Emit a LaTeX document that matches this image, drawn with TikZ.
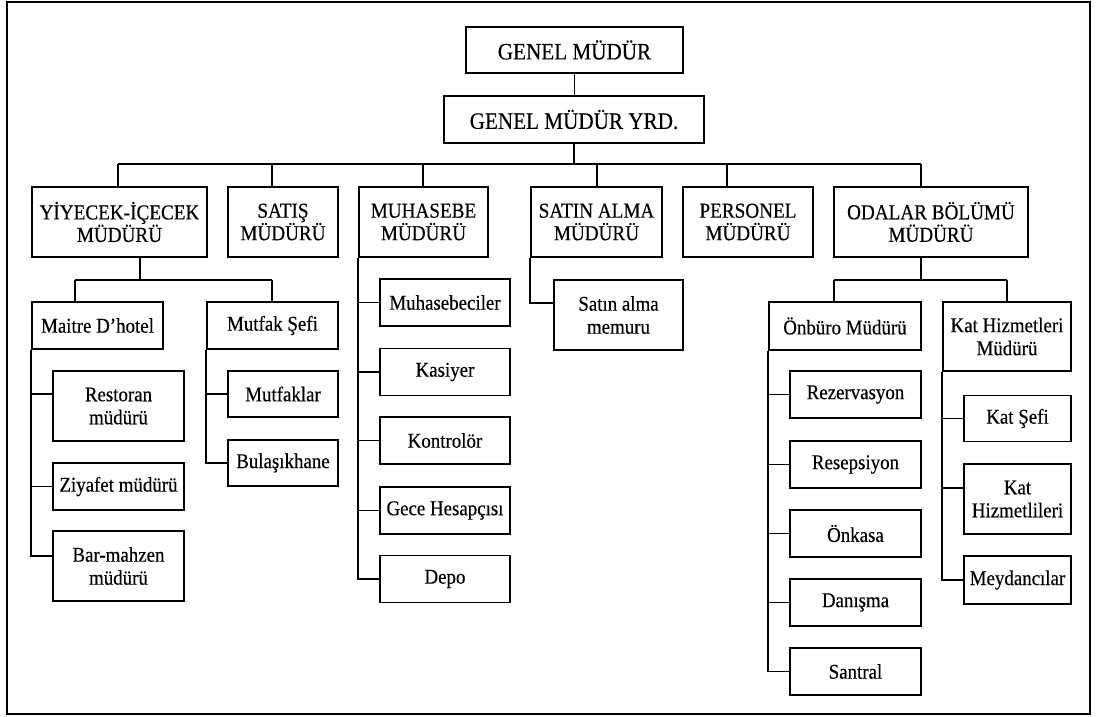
\documentclass[tikz,border=0pt]{standalone}
\usepackage{fontspec}
\setmainfont{Liberation Serif}[FakeStretch=0.9, FakeBold=0.35]
\tikzset{
  box/.style={draw, line width=1.6pt, inner sep=0pt, align=center, minimum height=47pt},
  topfont/.style={font=\fontsize{23.5}{26}\selectfont},
  midfont/.style={font=\fontsize{21.3}{22.5}\selectfont},
  lowfont/.style={font=\fontsize{21}{23}\selectfont},
  lvltwo/.style={box, midfont, minimum height=70pt},
  lowbox/.style={box, lowfont},
  lowtall/.style={box, lowfont, minimum height=70pt},
  conn/.style={line width=1.6pt},
}
\begin{document}
\begin{tikzpicture}[x=1pt,y=-1pt]
\useasboundingbox (0,0) rectangle (1096,717);
\draw[line width=1.6pt] (7,2) rectangle (1090,714);

% top
\node[box,topfont,minimum width=217pt,minimum height=46pt] (gm) at (574.5,50) {GENEL MÜDÜR};
\node[box,topfont,minimum width=260pt] (yrd) at (574,119.5) {GENEL MÜDÜR YRD.};

% level 2
\node[lvltwo,minimum width=175pt] (yiy) at (119.5,222) {YİYECEK-İÇECEK\\MÜDÜRÜ};
\node[lvltwo,minimum width=110pt] (sat) at (283,222) {SATIŞ\\MÜDÜRÜ};
\node[lvltwo,minimum width=129pt] (muh) at (423.5,222) {MUHASEBE\\MÜDÜRÜ};
\node[lvltwo,minimum width=131pt] (sal) at (596.5,222) {SATIN ALMA\\MÜDÜRÜ};
\node[lvltwo,minimum width=130pt] (per) at (748,222) {PERSONEL\\MÜDÜRÜ};
\node[lvltwo,minimum width=194pt] (oda) at (931,222) {ODALAR BÖLÜMÜ\\MÜDÜRÜ};

% food & beverage
\node[lowbox,minimum width=131pt] (mai) at (97.5,325.5) {Maitre D’hotel};
\node[lowbox,minimum width=131pt] (mut) at (272.5,325.5) {Mutfak Şefi};
\node[lowtall,minimum width=131pt] (res) at (118.5,406) {Restoran\\müdürü};
\node[lowbox,minimum width=131pt] (ziy) at (118.5,486.5) {Ziyafet müdürü};
\node[lowtall,minimum width=131pt] (bar) at (118.5,566) {Bar-mahzen\\müdürü};
\node[lowbox,minimum width=110pt,minimum height=46pt] (mtk) at (283,394) {Mutfaklar};
\node[lowbox,minimum width=110pt,minimum height=46pt] (bul) at (283,463) {Bulaşıkhane};

% accounting
\node[lowbox,minimum width=130pt] (mhs) at (445,302.5) {Muhasebeciler};
\node[lowbox,minimum width=130pt] (kas) at (445,372) {Kasiyer};
\node[lowbox,minimum width=130pt] (kon) at (445,440.5) {Kontrolör};
\node[lowbox,minimum width=130pt] (gec) at (445,510.5) {Gece Hesapçısı};
\node[lowbox,minimum width=130pt] (dep) at (445,579) {Depo};

% purchasing
\node[lowtall,minimum width=129pt] (sam) at (618.5,315) {Satın alma\\memuru};

% rooms division
\node[lowbox,minimum width=152pt,minimum height=48pt] (onb) at (845,326) {Önbüro Müdürü};
\node[lowbox,minimum width=128pt,minimum height=69pt] (kat) at (1007,336.5) {Kat Hizmetleri\\Müdürü};
\node[lowbox,minimum width=131pt] (rez) at (855.5,394.5) {Rezervasyon};
\node[lowbox,minimum width=131pt] (rsp) at (855.5,464.5) {Resepsiyon};
\node[lowbox,minimum width=131pt] (onk) at (855.5,533.5) {Önkasa};
\node[lowbox,minimum width=131pt] (dan) at (855.5,602.5) {Danışma};
\node[lowbox,minimum width=131pt] (san) at (855.5,671.5) {Santral};
\node[lowbox,minimum width=107pt,minimum height=46pt] (kse) at (1017.5,418.5) {Kat Şefi};
\node[lowtall,minimum width=107pt] (kth) at (1017.5,499) {Kat\\Hizmetlileri};
\node[lowbox,minimum width=107pt,minimum height=48pt] (mey) at (1017.5,580) {Meydancılar};

% connectors: top
\coordinate (bus) at (575,164);
\coordinate (busL) at (118,164);
\coordinate (busR) at (921,164);
\coordinate (bb) at (272,164);
\coordinate (bc) at (423,164);
\coordinate (bd) at (597,164);
\coordinate (be) at (727,164);
\draw[conn] (gm.south) -- (gm.south |- yrd.north);
\draw[conn] (yrd.south) -- (yrd.south |- bus);
\draw[conn] (busL) -- (busR);
\draw[conn] (busL) -- (busL |- yiy.north);
\draw[conn] (bb) -- (bb |- sat.north);
\draw[conn] (bc) -- (bc |- muh.north);
\draw[conn] (bd) -- (bd |- sal.north);
\draw[conn] (be) -- (be |- per.north);
\draw[conn] (busR) -- (busR |- oda.north);

% food & beverage connectors
\coordinate (yd) at (140,280);
\coordinate (ysL) at (75,280);
\coordinate (ysR) at (272,280);
\draw[conn] (yd |- yiy.south) -- (yd);
\draw[conn] (ysL) -- (ysR);
\draw[conn] (ysL) -- (ysL |- mai.north);
\draw[conn] (ysR) -- (ysR |- mut.north);
\coordinate (resC) at (53,394);
\coordinate (barC) at (53,556);
\draw[conn] (mai.south west) |- (resC);
\draw[conn] (mai.south west) |- (ziy.west);
\draw[conn] (mai.south west) |- (barC);
\draw[conn] (mut.south west) |- (mtk.west);
\draw[conn] (mut.south west) |- (bul.west);

% accounting connectors
\draw[conn] (muh.south west) |- (mhs.west);
\draw[conn] (muh.south west) |- (kas.west);
\draw[conn] (muh.south west) |- (kon.west);
\draw[conn] (muh.south west) |- (gec.west);
\draw[conn] (muh.south west) |- (dep.west);

% purchasing connector
\coordinate (samC) at (554,303);
\draw[conn] (sal.south west) |- (samC);

% rooms division connectors
\coordinate (od) at (921,280);
\coordinate (osL) at (834,280);
\coordinate (osR) at (1007,280);
\draw[conn] (od |- oda.south) -- (od);
\draw[conn] (osL) -- (osR);
\draw[conn] (osL) -- (osL |- onb.north);
\draw[conn] (osR) -- (osR |- kat.north);
\draw[conn] (onb.south west) |- (rez.west);
\draw[conn] (onb.south west) |- (rsp.west);
\draw[conn] (onb.south west) |- (onk.west);
\draw[conn] (onb.south west) |- (dan.west);
\draw[conn] (onb.south west) |- (san.west);
\coordinate (kthC) at (964,488);
\draw[conn] (kat.south west) |- (kse.west);
\draw[conn] (kat.south west) |- (kthC);
\draw[conn] (kat.south west) |- (mey.west);
\end{tikzpicture}
\end{document}
